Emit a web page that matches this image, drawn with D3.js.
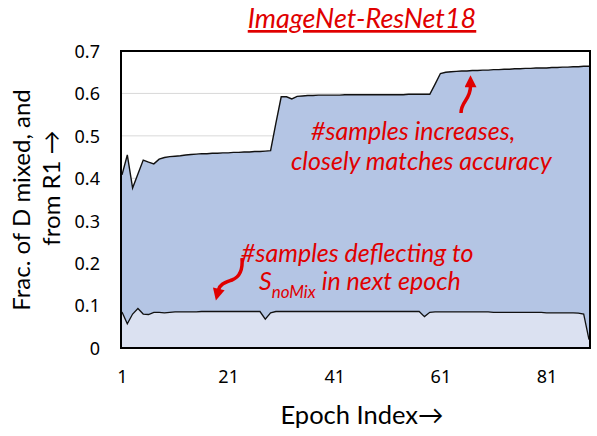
<!DOCTYPE html>
<html>
<head>
<meta charset="utf-8">
<script src="https://cdn.jsdelivr.net/npm/d3@7"></script>
<style>
  body { margin: 0; background: #fff; }
  svg { display: block; }
</style>
</head>
<body>
<div id="main"></div>
<script>
// epoch indices shown on the x axis
var epochs = d3.range(1, 90);
var xTicks = [1, 21, 41, 61, 81];
var yTicks = [0, 0.1, 0.2, 0.3, 0.4, 0.5, 0.6, 0.7];

// fraction of D mixed and from R1 (upper series)
var fracMixed = [
  0.408, 0.455, 0.377, 0.410, 0.443, 0.438, 0.434, 0.445, 0.449, 0.451,
  0.452, 0.453, 0.455, 0.456, 0.457, 0.458, 0.458, 0.459, 0.459, 0.460,
  0.460, 0.461, 0.461, 0.462, 0.462, 0.463, 0.463, 0.464, 0.465, 0.530,
  0.592, 0.592, 0.587, 0.593, 0.594, 0.595, 0.595, 0.596, 0.596, 0.596,
  0.596, 0.596, 0.597, 0.597, 0.597, 0.597, 0.597, 0.597, 0.597, 0.597,
  0.597, 0.597, 0.597, 0.597, 0.598, 0.598, 0.598, 0.598, 0.598, 0.622,
  0.647, 0.650, 0.651, 0.652, 0.653, 0.653, 0.654, 0.654, 0.655, 0.655,
  0.656, 0.656, 0.657, 0.657, 0.658, 0.658, 0.659, 0.659, 0.660, 0.660,
  0.660, 0.661, 0.661, 0.662, 0.662, 0.663, 0.663, 0.664, 0.664
];

// fraction of samples deflecting to S_noMix in next epoch (lower series)
var deflecting = [
  0.085, 0.057, 0.080, 0.093, 0.080, 0.079, 0.084, 0.084, 0.083, 0.084,
  0.085, 0.085, 0.085, 0.085, 0.085, 0.086, 0.086, 0.086, 0.086, 0.086,
  0.086, 0.086, 0.086, 0.086, 0.086, 0.086, 0.086, 0.068, 0.083, 0.086,
  0.086, 0.086, 0.086, 0.086, 0.086, 0.086, 0.086, 0.086, 0.086, 0.086,
  0.086, 0.086, 0.086, 0.086, 0.086, 0.086, 0.086, 0.086, 0.086, 0.086,
  0.086, 0.086, 0.086, 0.086, 0.086, 0.086, 0.086, 0.074, 0.084, 0.085,
  0.085, 0.085, 0.085, 0.085, 0.085, 0.085, 0.085, 0.085, 0.085, 0.085,
  0.084, 0.084, 0.084, 0.084, 0.084, 0.084, 0.084, 0.084, 0.084, 0.084,
  0.083, 0.083, 0.083, 0.083, 0.083, 0.083, 0.082, 0.080, 0.020
];

var red = "#e00000";
var W = 597, H = 436;
var plot = { left: 121, right: 590, top: 51, bottom: 348 };

var svg = d3.select("#main")
  .append("svg")
  .attr("width", W)
  .attr("height", H);

var x = d3.scaleLinear()
  .domain([1, 89])
  .range([plot.left + 1, plot.right - 1]);

var y = d3.scaleLinear()
  .domain([0, 0.7])
  .range([plot.bottom, plot.top]);

// gridlines
svg.selectAll(".grid")
  .data(yTicks.filter(d => d > 0 && d < 0.7))
  .enter()
  .append("line")
  .attr("x1", plot.left)
  .attr("x2", plot.right)
  .attr("y1", d => y(d))
  .attr("y2", d => y(d))
  .style("stroke", "#d9d9d9")
  .style("stroke-width", 1);

var rows = epochs.map((e, i) => ({ e: e, up: fracMixed[i], lo: deflecting[i] }));

var areaUp = d3.area()
  .x(d => x(d.e))
  .y0(y(0))
  .y1(d => y(d.up));
var areaLo = d3.area()
  .x(d => x(d.e))
  .y0(y(0))
  .y1(d => y(d.lo));

svg.append("path")
  .attr("d", areaUp(rows))
  .style("fill", "#b4c5e4");
svg.append("path")
  .attr("d", areaLo(rows))
  .style("fill", "#dbe1f1");

svg.append("path")
  .attr("d", d3.line().x(d => x(d.e)).y(d => y(d.up))(rows))
  .style("fill", "none")
  .style("stroke", "#111")
  .style("stroke-width", 1.4);
svg.append("path")
  .attr("d", d3.line().x(d => x(d.e)).y(d => y(d.lo))(rows))
  .style("fill", "none")
  .style("stroke", "#111")
  .style("stroke-width", 1.3);

// plot frame
svg.append("rect")
  .attr("x", plot.left)
  .attr("y", plot.top)
  .attr("width", plot.right - plot.left)
  .attr("height", plot.bottom - plot.top)
  .style("fill", "none")
  .style("stroke", "#000")
  .style("stroke-width", 2);

// axes
var yAxis = svg.append("g")
  .attr("transform", "translate(" + (plot.left - 21) + ",0)")
  .call(d3.axisLeft(y).tickValues(yTicks).tickSize(0)
    .tickFormat(d => d === 0 ? "0" : d3.format(".1f")(d)));
yAxis.select(".domain").remove();
yAxis.selectAll("text")
  .attr("x", 0)
  .attr("dy", "0.35em")
  .style("font-family", "'Noto Sans', sans-serif")
  .style("font-size", "18px")
  .style("fill", "#000");

var xAxis = svg.append("g")
  .attr("transform", "translate(0," + plot.bottom + ")")
  .call(d3.axisBottom(x).tickValues(xTicks).tickSize(0).tickFormat(d3.format("d")));
xAxis.select(".domain").remove();
xAxis.selectAll("text")
  .attr("y", 35)
  .attr("dy", 0)
  .style("font-family", "'Noto Sans', sans-serif")
  .style("font-size", "18px")
  .style("fill", "#000");

// axis titles
svg.append("text")
  .attr("x", 362)
  .attr("y", 424)
  .style("text-anchor", "middle")
  .style("font-family", "Lato, sans-serif")
  .style("font-size", "25.5px")
  .text("Epoch Index\u2192");

svg.append("text")
  .attr("transform", "translate(30,200) rotate(-90)")
  .style("text-anchor", "middle")
  .style("font-family", "Lato, sans-serif")
  .style("font-size", "24px")
  .text("Frac. of D mixed, and");
svg.append("text")
  .attr("transform", "translate(60,188) rotate(-90)")
  .style("text-anchor", "middle")
  .style("font-family", "Lato, sans-serif")
  .style("font-size", "24px")
  .text("from R1 \u2192");

// title
svg.append("text")
  .attr("x", 362)
  .attr("y", 28)
  .style("text-anchor", "middle")
  .style("font-family", "Lato, sans-serif")
  .style("font-style", "italic")
  .style("font-size", "27px")
  .style("text-decoration", "underline")
  .style("fill", red)
  .text("ImageNet-ResNet18");

// annotations
var ann = svg.append("g")
  .style("font-family", "Lato, sans-serif")
  .style("font-style", "italic")
  .style("font-size", "25px")
  .style("fill", red);

ann.append("text").attr("x", 311).attr("y", 140).text("#samples increases,");
ann.append("text").attr("x", 291).attr("y", 170).text("closely matches accuracy");
ann.append("text").attr("x", 241).attr("y", 262).text("#samples deflecting to");
var t2 = ann.append("text").attr("x", 259).attr("y", 290);
t2.append("tspan").text("S");
t2.append("tspan").attr("dy", 8).style("font-size", "17px").text("noMix");
t2.append("tspan").attr("dy", -8).attr("dx", 6).text("in next epoch");

// arrows
svg.append("defs").append("marker")
  .attr("id", "head")
  .attr("viewBox", "0 0 10 10")
  .attr("refX", 1)
  .attr("refY", 5)
  .attr("markerWidth", 14)
  .attr("markerHeight", 12)
  .attr("markerUnits", "userSpaceOnUse")
  .attr("orient", "auto")
  .append("path")
  .attr("d", "M0,0 L10,5 L0,10 z")
  .style("fill", red);

svg.append("path")
  .attr("d", "M461,113 C461,101 470.5,100 470.5,86")
  .style("fill", "none")
  .style("stroke", red)
  .style("stroke-width", 3.5)
  .attr("marker-end", "url(#head)");

svg.append("path")
  .attr("d", "M242,258 C243,270 240,277 232,280 C224,283 220,284 218.5,290")
  .style("fill", "none")
  .style("stroke", red)
  .style("stroke-width", 3.5)
  .attr("marker-end", "url(#head)");
</script>
</body>
</html>
